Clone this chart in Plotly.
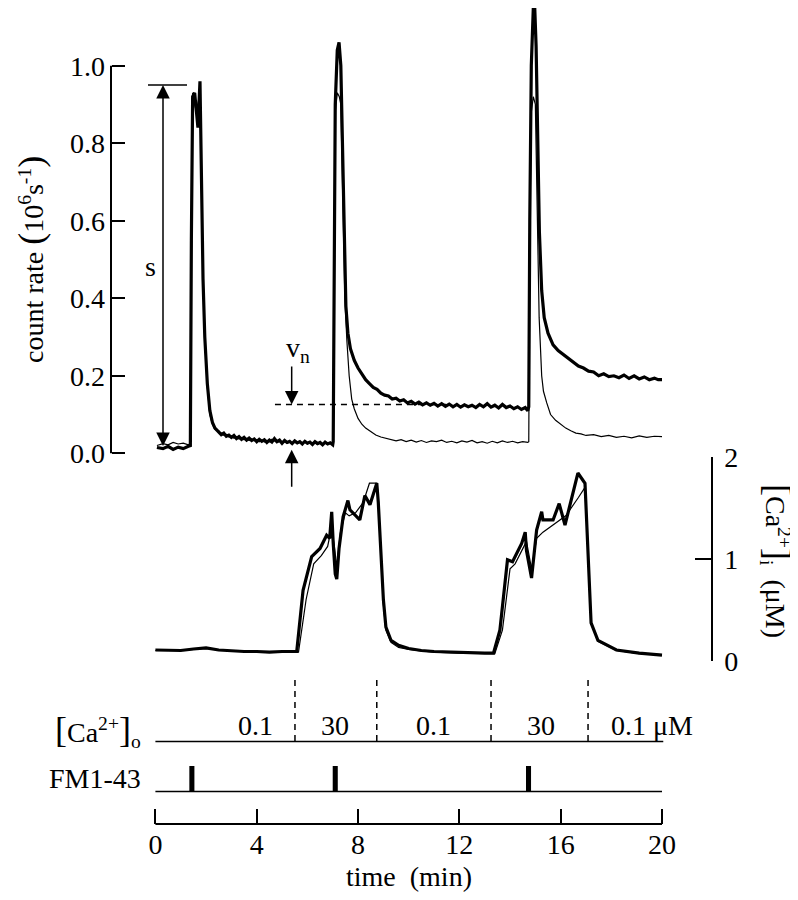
import plotly.graph_objects as go

FONT = "Liberation Serif"
FS = 28

# ---------------- data ----------------
# count rate (10^6 s^-1) vs time (min), thick trace
count_t_thick = [
    0.06, 0.3, 0.5, 0.7, 0.9, 1.1, 1.3, 1.38, 1.42, 1.47, 1.55, 1.62, 1.68, 1.76, 1.82, 1.88, 1.95, 2.05, 2.15, 2.25, 2.35,
    2.5, 2.6, 2.7, 2.8, 2.9, 3.0, 3.1, 3.2, 3.3, 3.4,
    3.5, 3.6, 3.7, 3.8, 3.9, 4.0, 4.1, 4.2, 4.3, 4.4,
    4.5, 4.6, 4.7, 4.8, 4.9, 5.0, 5.1, 5.2, 5.3, 5.4,
    5.5, 5.6, 5.7, 5.8, 5.9, 6.0, 6.1, 6.2, 6.3, 6.4,
    6.5, 6.6, 6.7, 6.8, 6.9, 7.0,
    7.02, 7.05, 7.1, 7.18, 7.25, 7.32, 7.38, 7.45, 7.52, 7.6,
    7.7, 7.85, 8.0, 8.15, 8.3, 8.45, 8.6, 8.75, 8.9, 9.05,
    9.2, 9.35, 9.5, 9.65, 9.8, 9.95, 10.1, 10.25, 10.4, 10.55,
    10.7, 10.85, 11.0, 11.15, 11.3, 11.45, 11.6, 11.75, 11.9, 12.05,
    12.2, 12.35, 12.5, 12.65, 12.8, 12.95, 13.1, 13.25, 13.4, 13.55,
    13.7, 13.85, 14.0, 14.15, 14.3, 14.45, 14.6, 14.7,
    14.74, 14.78, 14.84, 14.92, 14.97, 15.03, 15.1, 15.16, 15.25, 15.35,
    15.5, 15.7, 15.9, 16.1, 16.3, 16.5, 16.7, 16.9, 17.1, 17.3,
    17.5, 17.7, 17.9, 18.1, 18.3, 18.5, 18.7, 18.9, 19.1, 19.3,
    19.5, 19.7, 19.85, 20.0,
]
count_v_thick = [
    0.015, 0.012, 0.018, 0.010, 0.016, 0.012, 0.018, 0.020, 0.55, 0.92, 0.93, 0.88, 0.84, 0.96, 0.70, 0.45, 0.30, 0.18, 0.11, 0.08, 0.065,
    0.055, 0.048, 0.052, 0.044, 0.047, 0.041, 0.046, 0.038, 0.043, 0.036,
    0.041, 0.034, 0.039, 0.033, 0.037, 0.030, 0.036, 0.031, 0.035, 0.028,
    0.034, 0.029, 0.038, 0.030, 0.034, 0.026, 0.033, 0.028, 0.031, 0.025,
    0.032, 0.027, 0.030, 0.024, 0.031, 0.026, 0.029, 0.023, 0.030, 0.025,
    0.028, 0.022, 0.029, 0.024, 0.027, 0.022,
    0.03, 0.55, 0.90, 1.04, 1.06, 1.0, 0.80, 0.55, 0.38, 0.31,
    0.27, 0.24, 0.22, 0.205, 0.19, 0.18, 0.17, 0.165, 0.155, 0.15,
    0.148, 0.14, 0.142, 0.135, 0.138, 0.13, 0.134, 0.127, 0.132, 0.125,
    0.13, 0.124, 0.129, 0.122, 0.128, 0.121, 0.127, 0.12, 0.126, 0.119,
    0.125, 0.12, 0.124, 0.118, 0.126, 0.12, 0.128, 0.119, 0.124, 0.117,
    0.126, 0.118, 0.122, 0.115, 0.12, 0.113, 0.118, 0.11,
    0.12, 0.60, 1.0, 1.15, 1.16, 1.05, 0.80, 0.57, 0.42, 0.35,
    0.31, 0.28, 0.265, 0.255, 0.245, 0.235, 0.225, 0.22, 0.212, 0.21,
    0.20, 0.205, 0.198, 0.20, 0.195, 0.202, 0.193, 0.20, 0.192, 0.197,
    0.19, 0.194, 0.19, 0.19,
]

# count rate, thin trace
count_t_thin = [
    0.06, 0.3, 0.5, 0.7, 0.9, 1.1, 1.3, 1.38, 1.42, 1.47, 1.55, 1.62, 1.68, 1.76, 1.82, 1.88, 1.95, 2.05, 2.15, 2.25, 2.35,
    2.5, 2.6, 2.7, 2.8, 2.9, 3.0, 3.1, 3.2, 3.3, 3.4,
    3.5, 3.6, 3.7, 3.8, 3.9, 4.0, 4.1, 4.2, 4.3, 4.4,
    4.5, 4.6, 4.7, 4.8, 4.9, 5.0, 5.1, 5.2, 5.3, 5.4,
    5.5, 5.6, 5.7, 5.8, 5.9, 6.0, 6.1, 6.2, 6.3, 6.4,
    6.5, 6.6, 6.7, 6.8, 6.9, 7.0,
    7.02, 7.05, 7.1, 7.18, 7.26, 7.32, 7.4, 7.48, 7.56, 7.65,
    7.75, 7.85, 8.0, 8.15, 8.3, 8.5, 8.7, 8.9, 9.1, 9.3,
    9.5, 9.7, 9.9, 10.1, 10.3, 10.5, 10.7, 10.9, 11.1, 11.3,
    11.5, 11.7, 11.9, 12.1, 12.3, 12.5, 12.7, 12.9, 13.1, 13.3,
    13.5, 13.7, 13.9, 14.1, 14.3, 14.5, 14.7,
    14.74, 14.78, 14.84, 14.92, 15.0, 15.08, 15.15, 15.25, 15.32, 15.45,
    15.6, 15.8, 16.0, 16.2, 16.4, 16.6, 16.8, 17.0, 17.3, 17.6,
    17.9, 18.2, 18.5, 18.8, 19.1, 19.4, 19.7, 20.0,
]
count_v_thin = [
    0.02, 0.025, 0.022, 0.028, 0.024, 0.026, 0.022, 0.025, 0.50, 0.93, 0.90, 0.88, 0.90, 0.94, 0.68, 0.44, 0.29, 0.17, 0.10, 0.075, 0.062,
    0.058, 0.05, 0.047, 0.049, 0.042, 0.045, 0.039, 0.043, 0.037, 0.041,
    0.035, 0.038, 0.033, 0.037, 0.032, 0.035, 0.03, 0.034, 0.029, 0.033,
    0.03, 0.036, 0.033, 0.028, 0.031, 0.027, 0.03, 0.026, 0.029, 0.027,
    0.03, 0.025, 0.028, 0.026, 0.029, 0.024, 0.027, 0.025, 0.028, 0.023,
    0.027, 0.024, 0.026, 0.023, 0.026, 0.024,
    0.03, 0.5, 0.88, 0.93, 0.92, 0.9, 0.6, 0.4, 0.29, 0.2,
    0.14, 0.115, 0.09, 0.075, 0.065, 0.055, 0.047, 0.042, 0.038, 0.036,
    0.032, 0.035, 0.03, 0.034, 0.029, 0.033, 0.028, 0.032, 0.03, 0.034,
    0.028, 0.031, 0.027, 0.032, 0.029, 0.033, 0.027, 0.03, 0.026, 0.031,
    0.027, 0.032, 0.028, 0.031, 0.027, 0.03, 0.028,
    0.03, 0.55, 0.88, 0.92, 0.9, 0.6, 0.35, 0.2, 0.16, 0.13,
    0.1, 0.085, 0.075, 0.065, 0.058, 0.052, 0.05, 0.046, 0.048, 0.043,
    0.046, 0.041, 0.044, 0.04, 0.045, 0.041, 0.044, 0.043,
]

# [Ca2+]i (uM) vs time, thick trace
ca_t_thick = [
    0, 0.5, 1.0, 1.5, 2.0, 2.5, 3.0, 3.5, 4.0, 4.5, 5.0, 5.58,
    5.83, 6.17, 6.5, 6.76, 6.88, 6.96, 7.02, 7.1, 7.16, 7.25,
    7.41, 7.6, 7.68, 8.07, 8.27, 8.47, 8.74, 8.8, 9.0, 9.1,
    9.3, 9.6, 10.0, 10.5, 11.0, 12.0, 13.0, 13.35,
    13.6, 13.9, 14.1, 14.46, 14.6, 14.65, 14.85, 15.05, 15.25, 15.3,
    15.7, 15.94, 16.17, 16.68, 16.96, 17.2, 17.47, 18.2, 19.1, 20.0,
]
ca_v_thick = [
    0.105, 0.10, 0.10, 0.115, 0.125, 0.105, 0.095, 0.09, 0.09, 0.085, 0.09, 0.09,
    0.69, 1.02, 1.1, 1.23, 1.2, 1.46, 1.15, 0.85, 0.8, 1.1,
    1.41, 1.57, 1.48, 1.38, 1.62, 1.53, 1.74, 1.55, 0.6, 0.33,
    0.2, 0.15, 0.12, 0.1, 0.09, 0.08, 0.075, 0.075,
    0.3, 0.99, 0.97, 1.15, 1.26, 1.08, 0.81, 1.28, 1.46, 1.38,
    1.38, 1.54, 1.33, 1.84, 1.74, 0.37, 0.2, 0.105, 0.075, 0.055,
]

# [Ca2+]i thin trace
ca_t_thin = [
    0, 1.0, 2.0, 3.0, 4.0, 5.0, 5.65,
    5.95, 6.25, 6.55, 6.8, 6.95, 7.05, 7.16, 7.3, 7.5, 7.65,
    7.9, 8.2, 8.45, 8.74, 8.8, 9.0, 9.1, 9.3, 9.6, 10.0,
    10.5, 11.0, 12.0, 13.0, 13.4,
    13.7, 14.0, 14.2, 14.5, 14.65, 14.85, 15.05, 15.3, 15.8, 16.2,
    16.7, 16.96, 17.2, 17.47, 18.2, 19.1, 20.0,
]
ca_v_thin = [
    0.1, 0.1, 0.12, 0.095, 0.09, 0.088, 0.085,
    0.6, 0.95, 1.03, 1.12, 1.3, 1.15, 0.92, 1.25, 1.45, 1.42,
    1.45, 1.55, 1.74, 1.74, 1.6, 0.55, 0.3, 0.18, 0.13, 0.11,
    0.095, 0.085, 0.075, 0.07, 0.07,
    0.3, 0.9, 0.95, 1.1, 1.17, 0.9, 1.2, 1.26, 1.35, 1.42,
    1.6, 1.7, 0.37, 0.19, 0.1, 0.07, 0.06,
]

count_ticks = [0.0, 0.2, 0.4, 0.6, 0.8, 1.0]
count_ticklabels = ["0.0", "0.2", "0.4", "0.6", "0.8", "1.0"]
ca_ticks = [0, 1, 2]
time_ticks = [0, 4, 8, 12, 16, 20]
time_end = 20

solution_change_t = [5.51, 8.74, 13.25, 17.08]
ca_o_labels = ["0.1", "30", "0.1", "30", "0.1 μM"]
ca_o_label_t = [3.96, 7.09, 10.96, 15.22, 19.6]
fm_pulse_t = [1.44, 7.10, 14.73]

s_top = 0.95
s_bottom = 0.015
vn_level = 0.126
vn_t = 5.38
s_t = 0.30

# ---------------- layout geometry (page pixels) ----------------
OFF = 8                        # page body margin
W, H = 790, 884                # figure size inside the page
X0, XS = 155.4, 25.33          # page pixel of t=0, pixels per minute


def py(p):
    return 1 - (p - OFF) / H


def px(p):
    return (p - OFF) / W


XR = [(OFF - X0) / XS, (OFF + W - X0) / XS]

# top panel: count=0 at page y 453.3, count=1 at 65.7
c0, c1 = py(453.3), py(65.7)
cper = c1 - c0
top_dom = [py(500), 1.0]
top_range = [(top_dom[0] - c0) / cper, (top_dom[1] - c0) / cper]

ca_dom = [py(660.7), py(456.7)]

fig = go.Figure()

line_thick = dict(color="black", width=3.2)
line_thin = dict(color="black", width=1.2)

fig.add_trace(go.Scatter(x=count_t_thin, y=count_v_thin, mode="lines", line=line_thin,
                         xaxis="x", yaxis="y", hoverinfo="skip"))
fig.add_trace(go.Scatter(x=count_t_thick, y=count_v_thick, mode="lines", line=line_thick,
                         xaxis="x", yaxis="y", hoverinfo="skip"))
fig.add_trace(go.Scatter(x=ca_t_thin, y=ca_v_thin, mode="lines", line=line_thin,
                         xaxis="x2", yaxis="y2", hoverinfo="skip"))
fig.add_trace(go.Scatter(x=ca_t_thick, y=ca_v_thick, mode="lines", line=line_thick,
                         xaxis="x2", yaxis="y2", hoverinfo="skip"))

tickfont = dict(family=FONT, size=FS, color="black")

fig.update_layout(
    width=W, height=H, margin=dict(l=0, r=0, t=0, b=0, pad=0, autoexpand=False),
    paper_bgcolor="white", plot_bgcolor="rgba(0,0,0,0)",
    showlegend=False,
    font=dict(family=FONT, size=FS, color="black"),
    xaxis=dict(domain=[0, 1], range=XR, visible=False, anchor="y", automargin=False),
    yaxis=dict(domain=top_dom, range=top_range, anchor="free", position=px(111),
               side="left", showgrid=False, zeroline=False, showline=False, automargin=False,
               tickmode="array", tickvals=count_ticks, ticktext=count_ticklabels,
               ticks="inside", ticklen=13, tickwidth=2, tickcolor="black",
               tickfont=tickfont, ticklabelstandoff=6),
    xaxis2=dict(domain=[0, 1], range=XR, anchor="free", position=py(824),
                showgrid=False, zeroline=False, showline=False, automargin=False,
                tickmode="array", tickvals=time_ticks,
                ticks="inside", ticklen=15, tickwidth=2, tickcolor="black",
                tickfont=tickfont, ticklabelstandoff=1),
    yaxis2=dict(domain=ca_dom, range=[0, 2], anchor="free", position=px(711.7),
                side="right", showgrid=False, zeroline=False, automargin=False,
                showline=True, linewidth=2, linecolor="black",
                tickmode="array", tickvals=ca_ticks,
                ticks="inside", ticklen=16, tickwidth=2, tickcolor="black",
                tickfont=tickfont, ticklabelstandoff=6),
)

shapes = []
# top y axis line from 0 to 1.0
shapes.append(dict(type="line", xref="paper", yref="y", x0=px(111), x1=px(111),
                   y0=count_ticks[0], y1=count_ticks[-1], line=dict(color="black", width=2)))
# s cap line
shapes.append(dict(type="line", xref="paper", yref="y", x0=px(148), x1=px(187),
                   y0=s_top, y1=s_top, line=dict(color="black", width=1.5)))
# v_n dashed level
shapes.append(dict(type="line", xref="x", yref="y", x0=4.72, x1=11.5,
                   y0=vn_level, y1=vn_level, line=dict(color="black", width=1.5, dash="6px,5px")))
# time axis line
shapes.append(dict(type="line", xref="x2", yref="paper", x0=time_ticks[0], x1=time_ticks[-1],
                   y0=py(824), y1=py(824), line=dict(color="black", width=2)))
# [Ca2+]o row baseline
shapes.append(dict(type="line", xref="x2", yref="paper", x0=0, x1=time_end + 0.05,
                   y0=py(741.5), y1=py(741.5), line=dict(color="black", width=1.6)))
# FM1-43 row baseline
shapes.append(dict(type="line", xref="x2", yref="paper", x0=0, x1=time_end,
                   y0=py(791.5), y1=py(791.5), line=dict(color="black", width=1.6)))
# solution change dashed verticals
for t in solution_change_t:
    shapes.append(dict(type="line", xref="x2", yref="paper", x0=t, x1=t,
                       y0=py(741), y1=py(679), line=dict(color="black", width=1.5, dash="6px,5px")))
# FM1-43 pulses
for t in fm_pulse_t:
    shapes.append(dict(type="rect", xref="x2", yref="paper", x0=t - 0.1, x1=t + 0.1,
                       y0=py(791.5), y1=py(766), fillcolor="black", line=dict(width=0)))
fig.update_layout(shapes=shapes)

BR = 'style="font-size:36px"'
CM = dict(xanchor="center", yanchor="middle", showarrow=False, font=dict(size=FS))
ann = []
ann.append(dict(CM, xref="paper", yref="paper", x=px(31), y=py(260), textangle=-90,
                text=f'count rate <span {BR}>(</span>10<sup>6</sup>s<sup>-1</sup><span {BR}>)</span>'))
ann.append(dict(CM, xref="paper", yref="paper", x=px(777), y=py(561), textangle=90,
                text=f'<span {BR}>[</span>Ca<sup>2+</sup><span {BR}>]</span><sub>i</sub>&nbsp;&nbsp;(μM)'))
ann.append(dict(CM, xref="paper", yref="paper", x=px(150), y=py(266), text="s"))
ann.append(dict(CM, xref="paper", yref="paper", x=px(298), y=py(350), text="v<sub>n</sub>"))
ann.append(dict(CM, xref="paper", yref="paper", x=px(143), y=py(731), xanchor="right",
                text=f'<span {BR}>[</span>Ca<sup>2+</sup><span {BR}>]</span><sub>o</sub>'))
ann.append(dict(CM, xref="paper", yref="paper", x=px(143), y=py(778), xanchor="right",
                text="FM1-43"))
for lab, t in zip(ca_o_labels, ca_o_label_t):
    ann.append(dict(CM, xref="x2", yref="paper", x=t, y=py(725), text=lab))
ann.append(dict(CM, xref="x2", yref="paper", x=(time_ticks[0] + time_ticks[-1]) / 2, y=py(876),
                text="time&nbsp;&nbsp;(min)"))

arrow = dict(showarrow=True, arrowhead=2, arrowsize=1.8, arrowwidth=1.5, arrowcolor="black",
             text="", standoff=0, startstandoff=0)
# s double arrow
ann.append(dict(arrow, xref="x", yref="y", axref="x", ayref="y", x=s_t, y=s_top,
                ax=s_t, ay=s_bottom, arrowside="end+start"))
# v_n arrows
ann.append(dict(arrow, xref="x", yref="y", axref="x", ayref="y", x=vn_t, y=vn_level,
                ax=vn_t, ay=0.228))
ann.append(dict(arrow, xref="x", yref="y", axref="x", ayref="y", x=vn_t, y=0.009,
                ax=vn_t, ay=-0.09))
fig.update_layout(annotations=ann)

fig.write_html("out.html")
